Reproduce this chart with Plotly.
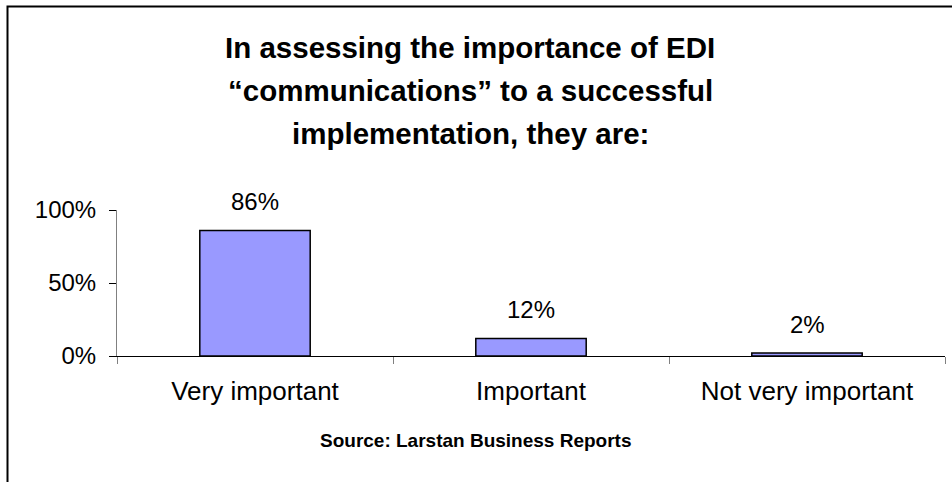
import plotly.graph_objects as go

# Survey responses
categories = ["Very important", "Important", "Not very important"]
shares = [86, 12, 2]  # percent of respondents
y_ticks = [0, 50, 100]
y_tick_labels = ["0%", "50%", "100%"]

title_lines = [
    "In assessing the importance of EDI",
    "\u201ccommunications\u201d to a successful",
    "implementation, they are:",
]
source_note = "Source: Larstan Business Reports"

FONT = "Liberation Sans, Arial, sans-serif"
W, H = 952, 482
M_L, M_R, M_T, M_B = 117, 7, 210, 126
PLOT_W = W - M_L - M_R
PLOT_H = H - M_T - M_B


def px_x(px):
    """Horizontal pixel position -> paper coordinate."""
    return (px - M_L) / PLOT_W


def px_y(py):
    """Vertical pixel position (from top) -> paper coordinate."""
    return (H - M_B - py) / PLOT_H


fig = go.Figure(
    go.Bar(
        x=categories,
        y=shares,
        width=0.4,
        marker=dict(color="#9999FF", line=dict(color="#000000", width=1.5)),
        hoverinfo="skip",
    )
)

annotations = []
# value labels above each bar
for cat, val in zip(categories, shares):
    annotations.append(dict(
        x=cat, y=val, xref="x", yref="y", text=f"{val}%", showarrow=False,
        yanchor="bottom", yshift=13,
        font=dict(family=FONT, size=24, color="#000000"),
    ))

# chart title, one annotation per line
for i, line in enumerate(title_lines):
    annotations.append(dict(
        x=px_x(470), y=px_y(47 + 43 * i), xref="paper", yref="paper",
        text=f"<b>{line}</b>", showarrow=False, xanchor="center", yanchor="middle",
        font=dict(family=FONT, size=29.5, color="#000000"),
    ))

annotations.append(dict(
    x=px_x(475), y=px_y(440), xref="paper", yref="paper",
    text=f"<b>{source_note}</b>", showarrow=False, xanchor="center", yanchor="middle",
    font=dict(family=FONT, size=19, color="#000000"),
))

fig.update_layout(
    width=W, height=H,
    margin=dict(l=M_L, r=M_R, t=M_T, b=M_B, pad=0),
    paper_bgcolor="#FFFFFF", plot_bgcolor="#FFFFFF",
    showlegend=False,
    annotations=annotations,
    shapes=[dict(
        type="rect", xref="paper", yref="paper",
        x0=px_x(7.5), x1=px_x(W + 20), y0=px_y(H + 20), y1=px_y(6.5),
        line=dict(color="#000000", width=2), fillcolor="rgba(0,0,0,0)", layer="below",
    )],
    xaxis=dict(
        type="category", showgrid=False, zeroline=False,
        showline=True, linecolor="#000000", linewidth=1,
        ticks="outside", tickson="boundaries", ticklen=7, tickcolor="#808080", tickwidth=1,
        ticklabelstandoff=12,
        tickfont=dict(family=FONT, size=26, color="#000000"),
        range=[-0.5, 2.5],
    ),
    yaxis=dict(
        range=[0, 100], tickvals=y_ticks, ticktext=y_tick_labels,
        showgrid=False, zeroline=False,
        showline=True, linecolor="#808080", linewidth=1,
        ticks="outside", ticklen=7, tickcolor="#000000", tickwidth=1,
        ticklabelstandoff=8,
        tickfont=dict(family=FONT, size=24, color="#000000"),
    ),
)

fig.write_html("out.html")
